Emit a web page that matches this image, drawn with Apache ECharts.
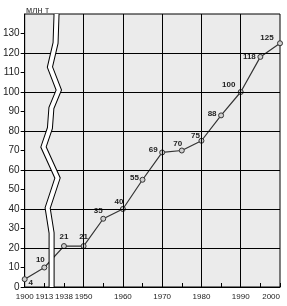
<!DOCTYPE html>
<html><head><meta charset="utf-8">
<script src="https://cdn.jsdelivr.net/npm/echarts@6/dist/echarts.min.js"></script>
<style>html,body{margin:0;padding:0;background:#fff}#c{width:287px;height:306px}</style>
</head><body><div id="c"></div>
<script>
// ---- data ----
const years = [1900,1913,1938,1950,1955,1960,1965,1970,1975,1980,1985,1990,1995,2000];
const values = [4,10,21,21,35,40,55,69,70,75,88,100,118,125];
const xTickYears = [1900,1913,1938,1950,1960,1970,1980,1990,2000];
const gridYears = [1950,1960,1970,1980,1990];
const gridValues = [20,40,60,80,100,120];
const unitLabel = 'млн т';
// compressed early period (axis break between 1913 and 1938)
const earlyYears = [1900,1913,1938,1950];
function pos(y){ const i = earlyYears.indexOf(y); return i >= 0 ? i : 3 + (y - 1950) / 5; }

// ---- styles ----
const labelOffsets = [[6,4],[-4,-8],[0,-9],[0,-9],[-5,-8],[-4,-7],[-8,-2],[-9,-3],[-4,-7],[-6,-5],[-9,-2],[-12,-7],[-11,0],[-13,-5]];
const breakPath = [[1.622,140],[1.572,125.1],[1.285,112.8],[1.738,101.0],[1.360,91.8],[1.285,81.5],[0.957,71.8],[1.673,55.9],[1.169,40.5],[1.370,27.7],[1.370,0]];

const lineData = years.map((y,i)=>({
  value:[pos(y), values[i]],
  label:{show:true, position:'inside', offset:labelOffsets[i]}
}));

const chart = echarts.init(document.getElementById('c'), null, {renderer:'canvas'});
chart.setOption({
  animation:false,
  backgroundColor:'#fff',
  title:{text:unitLabel, left:21, top:1, textStyle:{fontSize:9, fontWeight:'normal', color:'#333', fontFamily:'Liberation Sans, Arial'}},
  grid:{left:22, right:7, top:14, bottom:19, show:true, backgroundColor:'#ebebeb', borderColor:'#000', borderWidth:1},
  xAxis:{type:'value', min:0, max:13, interval:1,
    axisLine:{show:true, lineStyle:{color:'#000', width:1}},
    axisTick:{show:true, inside:true, length:4, lineStyle:{color:'#000'}},
    axisLabel:{margin:6, fontSize:8, color:'#222', fontFamily:'Liberation Sans, Arial', alignMaxLabel:'right',
      showMinLabel:true, showMaxLabel:true, hideOverlap:false,
      formatter:function(v){ const y = xTickYears.find(t=>Math.abs(pos(t)-v)<1e-6); return y ? String(y) : ''; }},
    splitLine:{show:false}},
  yAxis:{type:'value', min:0, max:140, interval:10,
    axisLine:{show:true, lineStyle:{color:'#000', width:1}},
    axisTick:{show:true, inside:false, length:4, lineStyle:{color:'#000'}},
    axisLabel:{margin:5, fontSize:10, color:'#222', fontFamily:'Liberation Sans, Arial', showMaxLabel:false,
      formatter:function(v){ return v===140 ? '' : String(v); }},
    splitLine:{show:false}},
  series:[
    {type:'line', data:lineData.map(d=>d.value), symbol:'none', lineStyle:{opacity:0}, silent:true, z:1,
      markLine:{silent:true, symbol:['none','none'], label:{show:false}, animation:false,
        lineStyle:{color:'#000', width:1, type:'solid'},
        data: gridYears.map(y=>({xAxis:pos(y)})).concat(gridValues.map(v=>({yAxis:v})))}},
    {type:'line', data:lineData, z:3, symbol:'circle', symbolSize:5,
      lineStyle:{color:'#333', width:1.2},
      itemStyle:{color:'#cfcfcf', borderColor:'#333', borderWidth:1},
      label:{fontSize:8, fontWeight:'bold', color:'#222', fontFamily:'Liberation Sans, Arial'}},
    {type:'line', data:breakPath, z:4, symbol:'none', silent:true,
      lineStyle:{color:'#000', width:6, cap:'butt', join:'miter'}},
    {type:'line', data:breakPath, z:5, symbol:'none', silent:true,
      lineStyle:{color:'#fff', width:4, cap:'butt', join:'miter'}}
  ]
});
</script></body></html>
